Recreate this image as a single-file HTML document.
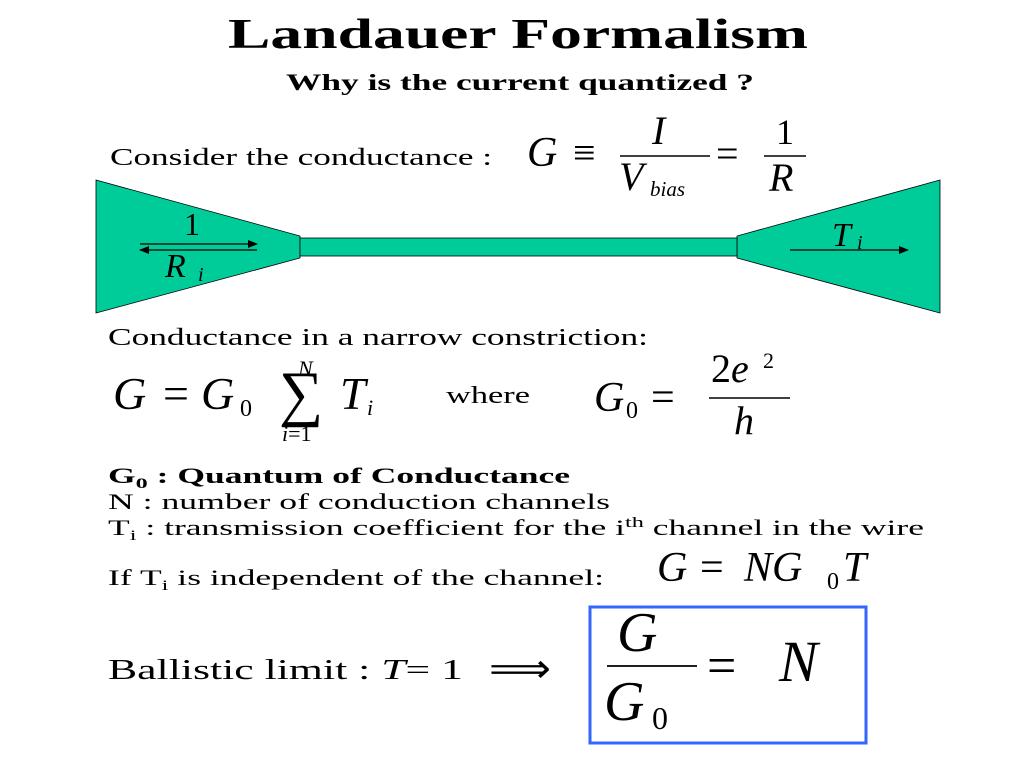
<!DOCTYPE html>
<html><head><meta charset="utf-8"><style>
html,body{margin:0;padding:0;background:#fff;width:1024px;height:768px;overflow:hidden}
svg{display:block}
text{font-family:"Liberation Serif",serif;fill:#000}
.i{font-style:italic}
</style></head><body>
<svg width="1024" height="768" viewBox="0 0 1024 768" xmlns="http://www.w3.org/2000/svg">
<defs>
<marker id="ah" markerWidth="10" markerHeight="8" refX="9" refY="4" orient="auto" markerUnits="userSpaceOnUse">
<path d="M0,0 L10,4 L0,8 z" fill="#000"/></marker>
</defs>
<text x="228" y="48" font-size="42" font-weight="bold" textLength="580" lengthAdjust="spacingAndGlyphs">Landauer Formalism</text>
<text x="286" y="90" font-size="23" font-weight="bold" textLength="468" lengthAdjust="spacingAndGlyphs">Why is the current quantized ?</text>
<text x="110" y="165" font-size="24" textLength="382" lengthAdjust="spacingAndGlyphs">Consider the conductance :</text>
<text x="527" y="166" font-size="42" class="i">G</text>
<text x="573" y="166" font-size="40">≡</text>
<line x1="620" y1="156" x2="710" y2="156" stroke="#000" stroke-width="1.5"/>
<text x="652" y="144" font-size="40" class="i">I</text>
<text x="619" y="190" font-size="40" class="i">V</text>
<text x="650" y="196" font-size="21" class="i">bias</text>
<text x="716" y="167" font-size="40">=</text>
<line x1="764" y1="156" x2="806" y2="156" stroke="#000" stroke-width="1.5"/>
<text x="776" y="144" font-size="36">1</text>
<text x="769" y="191" font-size="40" class="i">R</text>
<g fill="#00CC99" stroke="#000" stroke-width="0.8">
<polygon points="96,180 300,236 300,258 96,313"/>
<polygon points="940,180 940,313 737,258 737,236"/>
<rect x="300" y="238" width="437" height="18"/>
</g>
<line x1="140" y1="244" x2="257" y2="244" stroke="#000" stroke-width="1.2" marker-end="url(#ah)"/>
<line x1="257" y1="250" x2="140" y2="250" stroke="#000" stroke-width="1.2" marker-end="url(#ah)"/>
<text x="184" y="235" font-size="32">1</text>
<text x="165" y="277" font-size="34" class="i">R</text>
<text x="198" y="281" font-size="20" class="i">i</text>
<text x="832" y="246" font-size="34" class="i">T</text>
<text x="857" y="249" font-size="20" class="i">i</text>
<line x1="790" y1="250" x2="908" y2="250" stroke="#000" stroke-width="1.2" marker-end="url(#ah)"/>
<text x="108" y="345" font-size="24" textLength="540" lengthAdjust="spacingAndGlyphs">Conductance in a narrow constriction:</text>
<text x="113" y="409" font-size="46" class="i">G</text>
<text x="163" y="409" font-size="46">=</text>
<text x="201" y="409" font-size="46" class="i">G</text>
<text x="240" y="416" font-size="24">0</text>
<text x="279" y="414" font-size="62">∑</text>
<text x="298" y="376" font-size="22" class="i">N</text>
<text x="282" y="441" font-size="22"><tspan class="i">i</tspan>=1</text>
<text x="340" y="409" font-size="46" class="i">T</text>
<text x="367" y="415" font-size="22" class="i">i</text>
<text x="446" y="403" font-size="24" textLength="84" lengthAdjust="spacingAndGlyphs">where</text>
<text x="594" y="411" font-size="42" class="i">G</text>
<text x="626" y="418" font-size="24">0</text>
<text x="651" y="411" font-size="42">=</text>
<line x1="709" y1="398" x2="790" y2="398" stroke="#000" stroke-width="1.5"/>
<text x="711" y="382" font-size="40"><tspan>2</tspan><tspan class="i">e</tspan></text>
<text x="763" y="368" font-size="22">2</text>
<text x="734" y="434" font-size="40" class="i">h</text>
<text x="108" y="483" font-size="22" font-weight="bold" textLength="462" lengthAdjust="spacingAndGlyphs">G<tspan font-size="15" dy="5">0</tspan><tspan dy="-5"> : Quantum of Conductance</tspan></text>
<text x="108" y="509" font-size="22" textLength="502" lengthAdjust="spacingAndGlyphs">N : number of conduction channels</text>
<text x="108" y="535" font-size="22" textLength="816" lengthAdjust="spacingAndGlyphs">T<tspan font-size="15" dy="5">i</tspan><tspan dy="-5"> : transmission coefficient for the i</tspan><tspan font-size="15" dy="-8">th</tspan><tspan dy="8"> channel in the wire</tspan></text>
<text x="108" y="585" font-size="22" textLength="496" lengthAdjust="spacingAndGlyphs">If T<tspan font-size="15" dy="5">i</tspan><tspan dy="-5"> is independent of the channel:</tspan></text>
<text x="657" y="581" font-size="42" class="i">G</text>
<text x="700" y="581" font-size="42">=</text>
<text x="744" y="581" font-size="42" class="i">NG</text>
<text x="827" y="589" font-size="24">0</text>
<text x="843" y="581" font-size="42" class="i">T</text>
<text x="108" y="679" font-size="28" textLength="355" lengthAdjust="spacingAndGlyphs">Ballistic limit : <tspan class="i">T</tspan>= 1</text>
<text x="489" y="682" font-size="40" textLength="62" lengthAdjust="spacingAndGlyphs">⟹</text>
<rect x="590" y="607" width="276" height="136" fill="none" stroke="#3366FF" stroke-width="3"/>
<line x1="607" y1="666" x2="697" y2="666" stroke="#000" stroke-width="1.8"/>
<text x="617" y="651" font-size="56" class="i">G</text>
<text x="604" y="720" font-size="56" class="i">G</text>
<text x="652" y="729" font-size="32">0</text>
<text x="707" y="683" font-size="52">=</text>
<text x="779" y="681" font-size="58" class="i">N</text>
</svg>
</body></html>
